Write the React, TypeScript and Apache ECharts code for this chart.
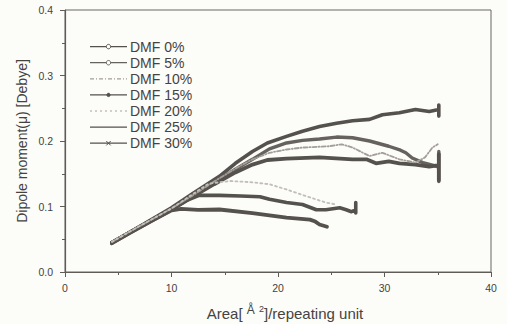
import React, { useEffect, useRef } from "react";
import * as echarts from "echarts";

// Dipole moment vs. area per repeating unit for several DMF contents
const seriesNames = ["DMF 0%", "DMF 5%", "DMF 10%", "DMF 15%", "DMF 20%", "DMF 25%", "DMF 30%"];

const dmf0: [number, number][] = [
  [4.4, 0.045], [6, 0.06], [8, 0.079], [10, 0.098], [12, 0.12], [14.5, 0.146], [16, 0.166],
  [17.6, 0.184], [19, 0.197], [20.8, 0.207], [22.3, 0.215], [23.9, 0.222], [25.5, 0.227],
  [27, 0.231], [28.6, 0.233], [29.8, 0.24], [31.4, 0.243], [32.9, 0.248], [34.2, 0.245],
  [35.1, 0.248], [35.1, 0.238], [35.1, 0.255],
];
const dmf5: [number, number][] = [
  [4.4, 0.045], [6, 0.06], [8, 0.078], [10, 0.096], [12, 0.116], [14, 0.137], [16, 0.157],
  [17.6, 0.172], [19.2, 0.188], [20.8, 0.197], [22.3, 0.201], [23.9, 0.203], [25.5, 0.206],
  [27, 0.205], [28.6, 0.2], [30.4, 0.192], [31.5, 0.186], [32, 0.182], [32.6, 0.174],
  [33.6, 0.167], [34.5, 0.163], [35.1, 0.16], [35.1, 0.138], [35.1, 0.184],
];
const dmf10: [number, number][] = [
  [4.4, 0.046], [6, 0.061], [8, 0.079], [10, 0.097], [12, 0.117], [14, 0.138], [16, 0.158],
  [17.6, 0.172], [19.2, 0.182], [20.8, 0.187], [22.3, 0.19], [24.8, 0.192], [26, 0.195],
  [27, 0.19], [28.6, 0.177], [29.8, 0.182], [31.4, 0.172], [32.9, 0.167], [33.8, 0.175],
  [34.5, 0.19], [35, 0.195],
];
const dmf15: [number, number][] = [
  [4.4, 0.044], [6, 0.059], [8, 0.077], [10, 0.095], [12, 0.115], [14, 0.134], [16, 0.152],
  [17.6, 0.164], [19, 0.171], [20.8, 0.173], [23.9, 0.175], [27, 0.172], [28.3, 0.172],
  [29.2, 0.166], [30.4, 0.169], [31.4, 0.166], [32.9, 0.164], [34.2, 0.161], [35.1, 0.163],
  [35.1, 0.14], [35.1, 0.18],
];
const dmf20: [number, number][] = [
  [4.4, 0.046], [6, 0.061], [8, 0.079], [10, 0.097], [12, 0.119], [13.5, 0.135], [15.5, 0.139],
  [17.5, 0.137], [19.2, 0.134], [20.8, 0.126], [22.6, 0.116], [24.5, 0.106], [25.5, 0.103],
];
const dmf25: [number, number][] = [
  [4.4, 0.045], [6, 0.06], [8, 0.078], [10, 0.096], [11.5, 0.11], [12.6, 0.117], [14.5, 0.117],
  [16.5, 0.116], [18.3, 0.115], [19.2, 0.111], [20.8, 0.106], [22.3, 0.103], [23.6, 0.095],
  [24.5, 0.095], [25.8, 0.098], [26.4, 0.095], [26.9, 0.092], [27.3, 0.095], [27.3, 0.09],
  [27.3, 0.106],
];
const dmf30: [number, number][] = [
  [4.4, 0.044], [6, 0.059], [8, 0.077], [10, 0.094], [10.9, 0.0965], [12.5, 0.095],
  [14.5, 0.0954], [17.6, 0.09], [20.8, 0.083], [23, 0.08], [23.5, 0.077], [23.9, 0.0725],
  [24.6, 0.069],
];

const xTicks = [0, 10, 20, 30, 40];
const yTicks = [0.0, 0.1, 0.2, 0.3, 0.4];

const FONT = "Liberation Sans, Arial, sans-serif";
const INK = "#46433f";
const AXIS = "#5f5b56";
const DARK = "#55514c";

type Style = {
  color: string;
  width: number;
  dash: number[] | null;
  marker: "open" | "dot" | "cross" | null;
};

// plot stroke + legend sample for each DMF content
const styles: Style[] = [
  { color: DARK, width: 3.6, dash: null, marker: "open" },
  { color: "#66625d", width: 3.4, dash: null, marker: "open" },
  { color: "#a39e97", width: 1.8, dash: [4, 2, 1, 2], marker: null },
  { color: DARK, width: 3.8, dash: null, marker: "dot" },
  { color: "#c3bfb8", width: 1.8, dash: [2, 3], marker: null },
  { color: DARK, width: 3.6, dash: null, marker: null },
  { color: DARK, width: 3.8, dash: null, marker: "cross" },
];
const dataSets = [dmf0, dmf5, dmf10, dmf15, dmf20, dmf25, dmf30];

function legendGraphics() {
  const x0 = 90, x1 = 127, textX = 130, top = 46.6, step = 16.1;
  const out: any[] = [];
  seriesNames.forEach((name, i) => {
    const s = styles[i];
    const y = top + step * i;
    const mid = (x0 + x1) / 2;
    out.push({
      type: "line",
      shape: { x1: x0, y1: y, x2: x1, y2: y },
      style: { stroke: s.color, lineWidth: 1.3, lineDash: s.dash || undefined },
    });
    if (s.marker === "open") {
      out.push({
        type: "circle",
        shape: { cx: mid, cy: y, r: 2.2 },
        style: { fill: "#fcfcf9", stroke: s.color, lineWidth: 1 },
      });
    } else if (s.marker === "dot") {
      out.push({
        type: "circle",
        shape: { cx: mid, cy: y, r: 1.8 },
        style: { fill: s.color, stroke: s.color, lineWidth: 0.5 },
      });
    } else if (s.marker === "cross") {
      out.push({
        type: "line",
        shape: { x1: mid - 2.2, y1: y - 2.2, x2: mid + 2.2, y2: y + 2.2 },
        style: { stroke: s.color, lineWidth: 1 },
      });
      out.push({
        type: "line",
        shape: { x1: mid - 2.2, y1: y + 2.2, x2: mid + 2.2, y2: y - 2.2 },
        style: { stroke: s.color, lineWidth: 1 },
      });
    }
    out.push({
      type: "text",
      x: textX,
      y,
      style: {
        text: name,
        fontFamily: FONT,
        fontSize: 14,
        fill: INK,
        align: "left",
        verticalAlign: "middle",
      },
    });
  });
  return out;
}

export default function App() {
  const ref = useRef<HTMLDivElement>(null);

  useEffect(() => {
    if (!ref.current) return;
    const chart = echarts.init(ref.current, undefined, { renderer: "svg" });

    const series = seriesNames.map((name, i) => {
      const s = styles[i];
      return {
        name,
        type: "line",
        data: dataSets[i],
        showSymbol: false,
        symbol: "none",
        z: s.dash ? 4 : 2,
        lineStyle: {
          color: s.color,
          width: s.width,
          type: s.dash ? s.dash : "solid",
          cap: "round",
          join: "round",
        },
        emphasis: { disabled: true },
      };
    });

    chart.setOption({
      animation: false,
      backgroundColor: "#fcfcf9",
      grid: {
        left: 65, right: 16, top: 10, bottom: 52,
        show: true, borderColor: "#6a6661", borderWidth: 1, backgroundColor: "transparent",
      },
      xAxis: {
        type: "value",
        min: xTicks[0],
        max: xTicks[xTicks.length - 1],
        interval: 10,
        splitLine: { show: false },
        axisLine: { onZero: false, lineStyle: { color: AXIS, width: 1.2 } },
        axisTick: { length: 5, lineStyle: { color: AXIS } },
        minorTick: { show: true, splitNumber: 2, length: 3, lineStyle: { color: AXIS } },
        axisLabel: { fontFamily: FONT, fontSize: 10.5, color: INK, margin: 10 },
      },
      yAxis: {
        type: "value",
        min: yTicks[0],
        max: yTicks[yTicks.length - 1],
        interval: 0.1,
        splitLine: { show: false },
        axisLine: { onZero: false, lineStyle: { color: AXIS, width: 1.2 } },
        axisTick: { length: 5, lineStyle: { color: AXIS } },
        minorTick: { show: true, splitNumber: 2, length: 3, lineStyle: { color: AXIS } },
        axisLabel: {
          fontFamily: FONT, fontSize: 10.5, color: INK, margin: 12,
          formatter: (v: number) => v.toFixed(1),
        },
      },
      series,
      graphic: [
        ...legendGraphics(),
        {
          type: "text",
          x: 22,
          y: 141,
          rotation: Math.PI / 2,
          style: {
            text: "Dipole moment(μ) [Debye]",
            fontFamily: FONT,
            fontSize: 14,
            fill: INK,
            align: "center",
            verticalAlign: "middle",
          },
        },
        {
          type: "text",
          x: 285,
          y: 313,
          style: {
            text: "Area[ {a|Å} {s|2}]/repeating unit",
            fontFamily: FONT,
            fontSize: 15,
            fill: INK,
            align: "center",
            verticalAlign: "middle",
            rich: {
              a: { fontFamily: FONT, fontSize: 12, fill: INK, verticalAlign: "top", padding: [0, 0, 6, 0] },
              s: { fontFamily: FONT, fontSize: 9, fill: INK, verticalAlign: "top", padding: [0, 0, 8, 0] },
            },
          },
        },
      ],
    });

    return () => chart.dispose();
  }, []);

  return (
    <div
      ref={ref}
      style={{ position: "fixed", left: 0, top: 0, width: 507, height: 324 }}
    />
  );
}
